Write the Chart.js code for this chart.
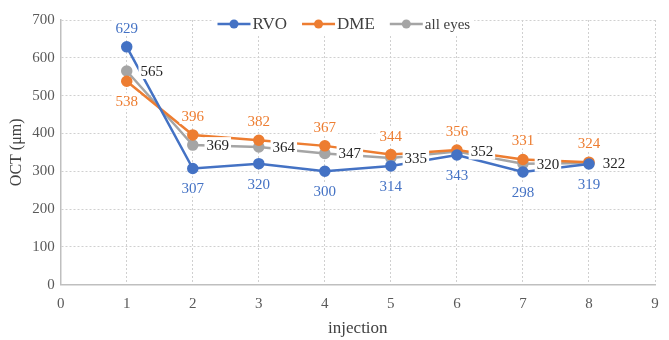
<!DOCTYPE html>
<html>
<head>
<meta charset="utf-8">
<script src="https://cdn.jsdelivr.net/npm/chart.js@4.4.1/dist/chart.umd.min.js"></script>
<style>
    html, body { margin: 0; padding: 0; background: #fff; }
    #wrap { width: 669px; height: 340px; }
</style>
</head>
<body>
<div id="wrap"><canvas id="myChart"></canvas></div>
<script>
const injections = [1, 2, 3, 4, 5, 6, 7, 8];
const rvoValues = [629, 307, 320, 300, 314, 343, 298, 319];
const dmeValues = [538, 396, 382, 367, 344, 356, 331, 324];
const allEyesValues = [565, 369, 364, 347, 335, 352, 320, 322];
// where each series puts its value labels (first point differs)
const rvoLabelPos = ['above', 'below', 'below', 'below', 'below', 'below', 'below', 'below'];
const dmeLabelPos = ['below', 'above', 'above', 'above', 'above', 'above', 'above', 'above'];
const allEyesLabelPos = ['right', 'right', 'right', 'right', 'right', 'right', 'right', 'right'];

const FONT = "'Liberation Serif', 'Times New Roman', serif";

function toPoints(values) {
    return injections.map((x, i) => ({ x: x, y: values[i] }));
}

const valueLabels = {
    id: 'valueLabels',
    afterDatasetsDraw(chart) {
        const ctx = chart.ctx;
        ctx.save();
        ctx.font = '15px ' + FONT;
        ctx.textAlign = 'center';
        ctx.textBaseline = 'middle';
        chart.data.datasets.forEach((ds, di) => {
            const meta = chart.getDatasetMeta(di);
            meta.data.forEach((pt, i) => {
                const txt = String(ds.data[i].y);
                const pos = ds.labelPos[i];
                let x = pt.x, y = pt.y;
                if (pos === 'above') y -= 19;
                else if (pos === 'below') y += 20;
                else x += 25;
                const w = ctx.measureText(txt).width;
                ctx.fillStyle = '#ffffff';
                ctx.fillRect(x - w / 2 - 2, y - 8, w + 4, 16);
                ctx.fillStyle = ds.labelColor;
                ctx.fillText(txt, x, y + 1);
            });
        });
        ctx.restore();
    }
};

// Excel-style legend sitting on the top edge of the plot area
const topLegend = {
    id: 'topLegend',
    afterDraw(chart) {
        const ctx = chart.ctx;
        const area = chart.chartArea;
        const sets = chart.data.datasets;
        const markW = 33, gapText = 2, gapItem = 15;
        ctx.save();
        const items = sets.map(ds => {
            ctx.font = ds.legendFontSize + 'px ' + FONT;
            return { ds: ds, w: ctx.measureText(ds.label).width };
        });
        const total = items.reduce((s, it) => s + markW + gapText + it.w, 0) + gapItem * (items.length - 1);
        let x = (area.left + area.right) / 2 - 14 - total / 2;
        const y = area.top + 4;
        ctx.fillStyle = '#ffffff';
        ctx.fillRect(x - 4, y - 10, total + 8, 20);
        items.forEach(it => {
            const c = it.ds.borderColor;
            ctx.strokeStyle = c;
            ctx.lineWidth = 2.5;
            ctx.beginPath();
            ctx.moveTo(x, y);
            ctx.lineTo(x + markW, y);
            ctx.stroke();
            ctx.fillStyle = c;
            ctx.beginPath();
            ctx.arc(x + markW / 2, y, 4.5, 0, Math.PI * 2);
            ctx.fill();
            x += markW + gapText;
            ctx.font = it.ds.legendFontSize + 'px ' + FONT;
            ctx.fillStyle = '#404040';
            ctx.textAlign = 'left';
            ctx.textBaseline = 'middle';
            ctx.fillText(it.ds.label, x, y + 1);
            x += it.w + gapItem;
        });
        ctx.restore();
    }
};

function makeDataset(label, values, color, labelColor, labelPos, legendFontSize) {
    return {
        label: label,
        data: toPoints(values),
        borderColor: color,
        backgroundColor: color,
        borderWidth: 2.5,
        pointRadius: 4.5,
        pointHoverRadius: 4.5,
        pointStyle: 'circle',
        labelColor: labelColor,
        labelPos: labelPos,
        legendFontSize: legendFontSize,
        tension: 0
    };
}

const ctx = document.getElementById('myChart').getContext('2d');

new Chart(ctx, {
    type: 'line',
    data: {
        datasets: [
            makeDataset('RVO', rvoValues, '#4472C4', '#4472C4', rvoLabelPos, 17),
            makeDataset('DME', dmeValues, '#ED7D31', '#ED7D31', dmeLabelPos, 17),
            makeDataset('all eyes', allEyesValues, '#A5A5A5', '#262626', allEyesLabelPos, 15)
        ]
    },
    options: {
        responsive: true,
        maintainAspectRatio: false,
        animation: false,
        layout: { padding: { left: 5, right: 14, top: 20, bottom: 1 } },
        scales: {
            x: {
                type: 'linear',
                min: 0,
                max: 9,
                ticks: { stepSize: 1, color: '#595959', font: { family: FONT, size: 15 }, padding: 10 },
                grid: { color: '#d0d0d0', lineWidth: 1, drawTicks: false },
                border: { display: true, color: '#bfbfbf', width: 1.5, dash: [2, 2] },
                title: { display: true, text: 'injection', color: '#404040', font: { family: FONT, size: 17 }, padding: { top: -4, bottom: 0 } }
            },
            y: {
                min: 0,
                max: 700,
                ticks: { stepSize: 100, color: '#595959', font: { family: FONT, size: 15 }, padding: 6 },
                grid: { color: '#d0d0d0', lineWidth: 1, drawTicks: false },
                border: { display: true, color: '#bfbfbf', width: 1.5, dash: [2, 2] },
                title: { display: true, text: 'OCT (μm)', color: '#404040', font: { family: FONT, size: 16 }, padding: { top: 2, bottom: 0 } }
            }
        },
        plugins: {
            legend: { display: false },
            tooltip: { enabled: false }
        }
    },
    plugins: [valueLabels, topLegend]
});
</script>
</body>
</html>
